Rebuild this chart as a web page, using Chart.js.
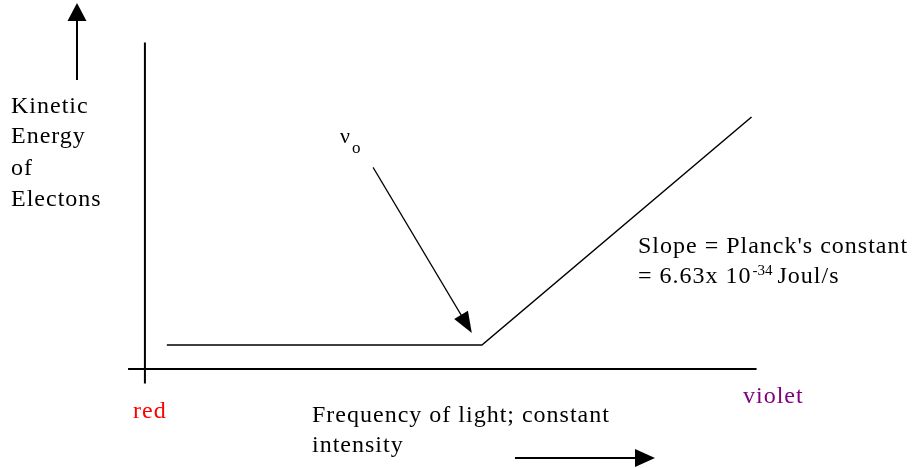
<!DOCTYPE html>
<html>
<head>
<meta charset="utf-8">
<script src="https://cdn.jsdelivr.net/npm/chart.js@4"></script>
<style>
  html, body { margin: 0; padding: 0; background: #fff; }
  #wrap { width: 916px; height: 468px; }
</style>
</head>
<body>
<div id="wrap"><canvas id="photoChart" width="916" height="468"></canvas></div>
<script>
// Photoelectric effect: kinetic energy of electrons vs frequency of light
// (arbitrary units, threshold frequency at 10)

const keFreq   = [0.65, 10, 18];
const keEnergy = [1, 1, 10.5];

const xAxisFreq   = [-0.5, 18.15];
const xAxisEnergy = [0, 0];
const yAxisFreq   = [0, 0];
const yAxisEnergy = [-0.6, 13.6];

// arrow pointing at the threshold frequency
const nuArrowFreq   = [6.77, 9.7];
const nuArrowEnergy = [8.4, 1.5];

const yLabelLines = ['Kinetic', 'Energy', 'of', 'Electons'];
const xLabelLines = ['Frequency of light; constant', 'intensity'];
const slopeLines  = ["Slope = Planck's constant", '= 6.63x 10', '-34', 'Joul/s'];

function toPoints(xs, ys) {
  return xs.map((x, i) => ({ x: x, y: ys[i] }));
}

function arrowHead(ctx, x1, y1, x2, y2, len, half) {
  const a = Math.atan2(y2 - y1, x2 - x1);
  ctx.beginPath();
  ctx.moveTo(x2, y2);
  ctx.lineTo(x2 - len * Math.cos(a) + half * Math.sin(a), y2 - len * Math.sin(a) - half * Math.cos(a));
  ctx.lineTo(x2 - len * Math.cos(a) - half * Math.sin(a), y2 - len * Math.sin(a) + half * Math.cos(a));
  ctx.closePath();
  ctx.fill();
}

function arrow(ctx, x1, y1, x2, y2, width, len, half) {
  const a = Math.atan2(y2 - y1, x2 - x1);
  ctx.lineWidth = width;
  ctx.beginPath();
  ctx.moveTo(x1, y1);
  ctx.lineTo(x2 - (len - 2) * Math.cos(a), y2 - (len - 2) * Math.sin(a));
  ctx.stroke();
  arrowHead(ctx, x1, y1, x2, y2, len, half);
}

const labelsPlugin = {
  id: 'labels',
  afterDraw(chart) {
    const ctx = chart.ctx;
    const xs = chart.scales.x;
    const ys = chart.scales.y;
    const serif = '"Liberation Serif", "DejaVu Serif", serif';
    ctx.save();
    ctx.fillStyle = '#000';
    ctx.strokeStyle = '#000';
    ctx.textBaseline = 'alphabetic';
    ctx.textAlign = 'left';
    ctx.letterSpacing = '1px';
    ctx.font = '24px ' + serif;

    // y axis title
    const yBase = [113, 143, 175, 206];
    yLabelLines.forEach((t, i) => ctx.fillText(t, 11, yBase[i]));

    // x axis title
    ctx.fillText(xLabelLines[0], 312, 422);
    ctx.fillText(xLabelLines[1], 312, 452);

    // slope note
    ctx.fillText(slopeLines[0], 638, 253);
    ctx.fillText(slopeLines[1], 638, 283);
    const w = ctx.measureText(slopeLines[1]).width;
    ctx.font = '15px ' + serif;
    ctx.letterSpacing = '0px';
    ctx.fillText(slopeLines[2], 638 + w + 1, 275);
    const w2 = ctx.measureText(slopeLines[2]).width;
    ctx.font = '24px ' + serif;
    ctx.letterSpacing = '1px';
    ctx.fillText(slopeLines[3], 638 + w + w2 + 6, 283);

    // spectrum ends
    ctx.fillStyle = '#ff0000';
    ctx.fillText('red', 133, 418);
    ctx.fillStyle = '#800080';
    ctx.fillText('violet', 743, 403);

    // nu_o
    ctx.fillStyle = '#000';
    ctx.letterSpacing = '0px';
    ctx.font = '22px ' + serif;
    ctx.fillText('\u03bd', 340, 143);
    ctx.font = '17px ' + serif;
    ctx.fillText('o', 352, 153);

    // arrows
    arrow(ctx, xs.getPixelForValue(nuArrowFreq[0]), ys.getPixelForValue(nuArrowEnergy[0]),
          xs.getPixelForValue(nuArrowFreq[1]), ys.getPixelForValue(nuArrowEnergy[1]), 1.2, 21, 8);
    arrow(ctx, 77, 80, 77, 3, 2, 18, 9.5);
    arrow(ctx, 515, 458, 655, 458, 2, 20, 9);
    ctx.restore();
  }
};

const lineStyle = {
  showLine: true,
  borderColor: '#000',
  borderWidth: 2,
  pointRadius: 0,
  fill: false,
  tension: 0
};

new Chart(document.getElementById('photoChart'), {
  type: 'scatter',
  data: {
    datasets: [
      Object.assign({ label: 'x axis', data: toPoints(xAxisFreq, xAxisEnergy) }, lineStyle),
      Object.assign({ label: 'y axis', data: toPoints(yAxisFreq, yAxisEnergy) }, lineStyle),
      Object.assign({ label: 'Kinetic energy', data: toPoints(keFreq, keEnergy) }, lineStyle, { borderWidth: 1.5 })
    ]
  },
  options: {
    responsive: false,
    animation: false,
    devicePixelRatio: 1,
    layout: { padding: 0 },
    plugins: {
      legend: { display: false },
      tooltip: { enabled: false }
    },
    scales: {
      x: { type: 'linear', min: -4.3, max: 22.88, display: false },
      y: { type: 'linear', min: -4.125, max: 15.375, display: false }
    }
  },
  plugins: [labelsPlugin]
});
</script>
</body>
</html>
